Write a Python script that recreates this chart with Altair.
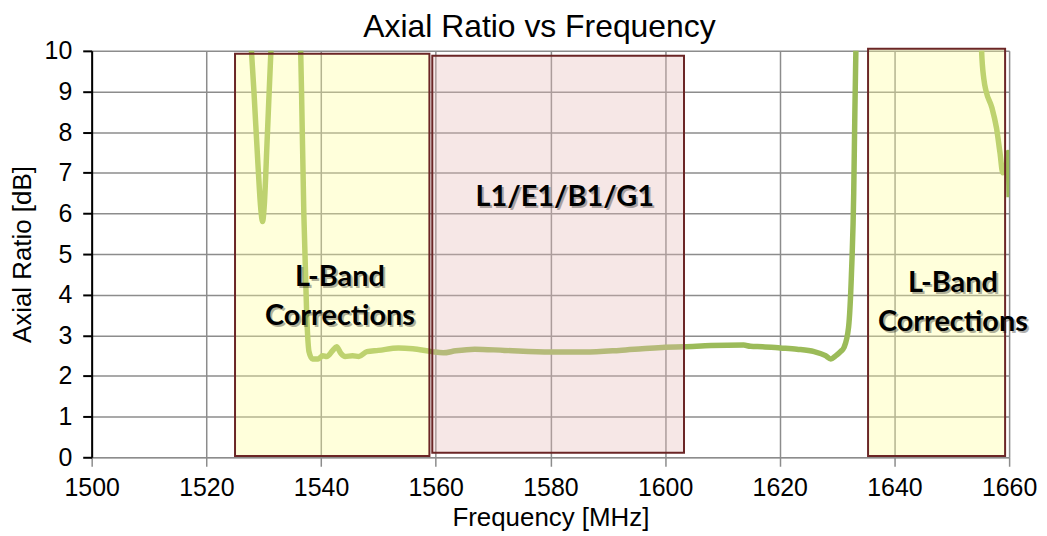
import altair as alt
import pandas as pd

# Measured axial ratio curve (values above 10 dB run off the top of the plot)
freq = [1527.6, 1528.3, 1529.0, 1529.5, 1529.8, 1530.1, 1530.6, 1531.2, 1531.6, 1533.5,
        1536.3, 1536.6, 1537.0, 1537.5, 1537.9, 1538.5, 1539.5, 1540.3, 1541.0, 1542.0,
        1542.7, 1543.5, 1544.2, 1545.5, 1546.6, 1548.0, 1550.0, 1553.5, 1556.0, 1559.3,
        1561.3, 1563.5, 1566.8, 1572.0, 1580.0, 1586.0, 1592.0, 1596.0, 1600.0, 1603.3,
        1608.0, 1613.7, 1614.9, 1617.0, 1620.1, 1623.0, 1626.0, 1628.0, 1628.9, 1629.8,
        1630.6, 1631.2, 1632.0, 1632.5, 1632.9, 1633.1, 1633.3, 1633.5, 1645.0, 1655.0,
        1655.2, 1655.6, 1656.0, 1657.0, 1657.8, 1658.4, 1658.9, 1659.4, 1659.8, 1660.0]
ar = [10.6, 9.0, 7.2, 6.1, 5.8, 6.2, 7.8, 9.8, 11.0, 20.0,
      11.0, 9.0, 6.0, 3.5, 2.6, 2.42, 2.42, 2.5, 2.48, 2.62,
      2.72, 2.55, 2.48, 2.5, 2.48, 2.6, 2.63, 2.69, 2.67, 2.6,
      2.57, 2.62, 2.66, 2.63, 2.59, 2.59, 2.63, 2.67, 2.71, 2.72,
      2.75, 2.76, 2.73, 2.72, 2.69, 2.66, 2.6, 2.5, 2.42, 2.5,
      2.6, 2.7, 3.2, 4.5, 6.5, 8.5, 10.2, 12.0, 20.0, 12.0,
      10.0, 9.3, 9.0, 8.6, 8.1, 7.5, 7.0, 7.05, 7.5, 6.4]

# Shaded frequency bands
band_name = ["L-Band Corrections (low)", "L1/E1/B1/G1", "L-Band Corrections (high)"]
band_start = [1525.0, 1559.4, 1635.4]
band_end = [1558.9, 1603.3, 1659.3]
band_bottom = [0.03, 0.11, 0.03]
band_top = [9.93, 9.88, 10.05]
band_color = ["#FFFF99", "#E6B9B8", "#FFFF99"]

# Band labels (y = first text line)
label_text = ["L-Band\nCorrections", "L1/E1/B1/G1", "L-Band\nCorrections"]
label_x = [1543.3, 1582.5, 1650.2]
label_y = [4.44, 6.4, 4.29]

line_df = pd.DataFrame({"f": freq, "ar": ar})
band_df = pd.DataFrame({"name": band_name, "x0": band_start, "x1": band_end,
                        "y0": band_bottom, "y1": band_top, "color": band_color})
label_df = pd.DataFrame({"text": label_text, "x": label_x, "y": label_y})

xscale = alt.Scale(domain=[1500, 1660], nice=False, zero=False)
yscale = alt.Scale(domain=[0, 10], nice=False)

xaxis = alt.Axis(values=list(range(1500, 1661, 20)), title="Frequency [MHz]", format="d",
                 domainColor="#8c8c8c", tickColor="#8c8c8c", tickWidth=1.5, tickSize=9,
                 labelPadding=9, titlePadding=4, labelFlush=False, titleFontSize=26)
yaxis = alt.Axis(values=list(range(0, 11)), title="Axial Ratio [dB]", format="d",
                 domainColor="black", domainWidth=2, tickColor="black", tickWidth=2,
                 tickSize=9, labelPadding=11, titlePadding=9, labelFlush=False,
                 titleFontSize=26)

line = alt.Chart(line_df).mark_line(color="#9BBB59", strokeWidth=5.5, clip=True,
                                    interpolate="monotone").encode(
    x=alt.X("f:Q", scale=xscale, axis=xaxis),
    y=alt.Y("ar:Q", scale=yscale, axis=yaxis),
)

bands = alt.Chart(band_df).mark_rect(opacity=1, fillOpacity=0.35, stroke="#6B2626",
                                     strokeWidth=2).encode(
    x=alt.X("x0:Q", scale=xscale),
    x2="x1:Q",
    y=alt.Y("y0:Q", scale=yscale),
    y2="y1:Q",
    fill=alt.Fill("color:N", scale=None),
)

shadow = alt.Chart(label_df).mark_text(font="Lato", fontSize=29, fontWeight="bold",
                                       lineBreak="\n", lineHeight=39, color="#000000",
                                       opacity=0.3, dx=2, dy=2, baseline="middle").encode(
    x=alt.X("x:Q", scale=xscale), y=alt.Y("y:Q", scale=yscale), text="text:N")

labels = alt.Chart(label_df).mark_text(font="Lato", fontSize=29, fontWeight="bold",
                                       lineBreak="\n", lineHeight=39, color="#000000",
                                       baseline="middle").encode(
    x=alt.X("x:Q", scale=xscale), y=alt.Y("y:Q", scale=yscale), text="text:N")

chart = alt.layer(line, bands, shadow, labels).properties(
    width=921, height=408,
    title=alt.TitleParams("Axial Ratio vs Frequency", font="Liberation Sans", fontSize=32,
                          fontWeight="normal", color="black", anchor="middle", dx=-11,
                          offset=-5),
    autosize=alt.AutoSizeParams(type="none"),
    padding={"left": 84, "top": 42, "right": 30, "bottom": 78},
).configure_view(stroke=None).configure_axis(
    gridColor="#8c8c8c", gridWidth=1.5, labelFont="Liberation Sans", labelFontSize=25,
    labelColor="black", titleFont="Liberation Sans",
    titleFontWeight="normal", titleColor="black",
)

chart.save("out.html", embed_options={"renderer": "svg", "actions": False})
